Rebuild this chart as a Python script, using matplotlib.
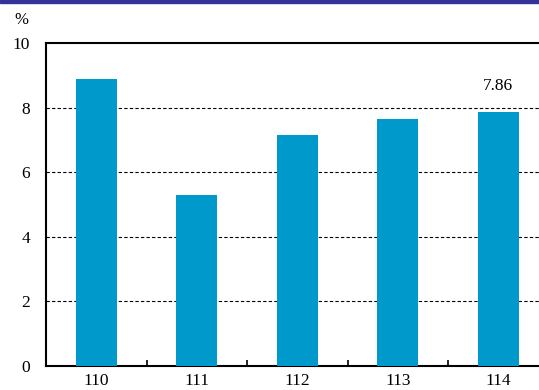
import matplotlib
matplotlib.use('Agg')

import matplotlib.pyplot as plt
from matplotlib.patches import Rectangle

# data
years = ['110', '111', '112', '113', '114']
values = [8.9, 5.29, 7.15, 7.65, 7.86]
yticks = [0, 2, 4, 6, 8, 10]

plt.rcParams['font.family'] = ['Liberation Serif', 'DejaVu Serif']

fig = plt.figure(figsize=(5.39, 3.90), dpi=100)
W, H = 539.0, 390.0

# navy band at top
fig.patches.append(Rectangle((0, 1 - 3 / H), 1, 3 / H, transform=fig.transFigure,
                             color='#333399', zorder=0))

ax = fig.add_axes([46 / W, 24 / H, 502.5 / W, 323 / H])

x = list(range(len(years)))
ax.bar(x, values, width=0.41, color='#0099CC', zorder=3)

ax.set_xlim(-0.5, len(years) - 0.5)
ax.set_ylim(0, 10)
ax.set_yticks(yticks)
ax.set_yticklabels([str(t) for t in yticks], fontsize=12.5)

# category labels between boundary ticks
ax.set_xticks([i + 0.5 for i in x[:-1]])
ax.set_xticklabels([])
ax.set_xticks(x, minor=True)
ax.set_xticklabels(years, minor=True, fontsize=12.5)
ax.tick_params(axis='x', which='major', direction='in', length=4, width=1.2)
ax.tick_params(axis='x', which='minor', length=0, pad=5)
ax.tick_params(axis='y', length=0, pad=11.5)

for y in yticks[1:-1]:
    ax.axhline(y, color='black', linestyle=(0, (3, 2)), linewidth=0.8, zorder=1)

for s in ['left', 'bottom', 'top']:
    ax.spines[s].set_linewidth(1.5)
ax.spines['right'].set_visible(False)

ax.text(x[-1], values[-1] + 0.55, '%.2f' % values[-1], ha='center', va='bottom', fontsize=12.5)

fig.text(14 / W, 1 - 20 / H, '%', fontsize=12, ha='left', va='center')

fig.savefig('out.png', dpi=100)
